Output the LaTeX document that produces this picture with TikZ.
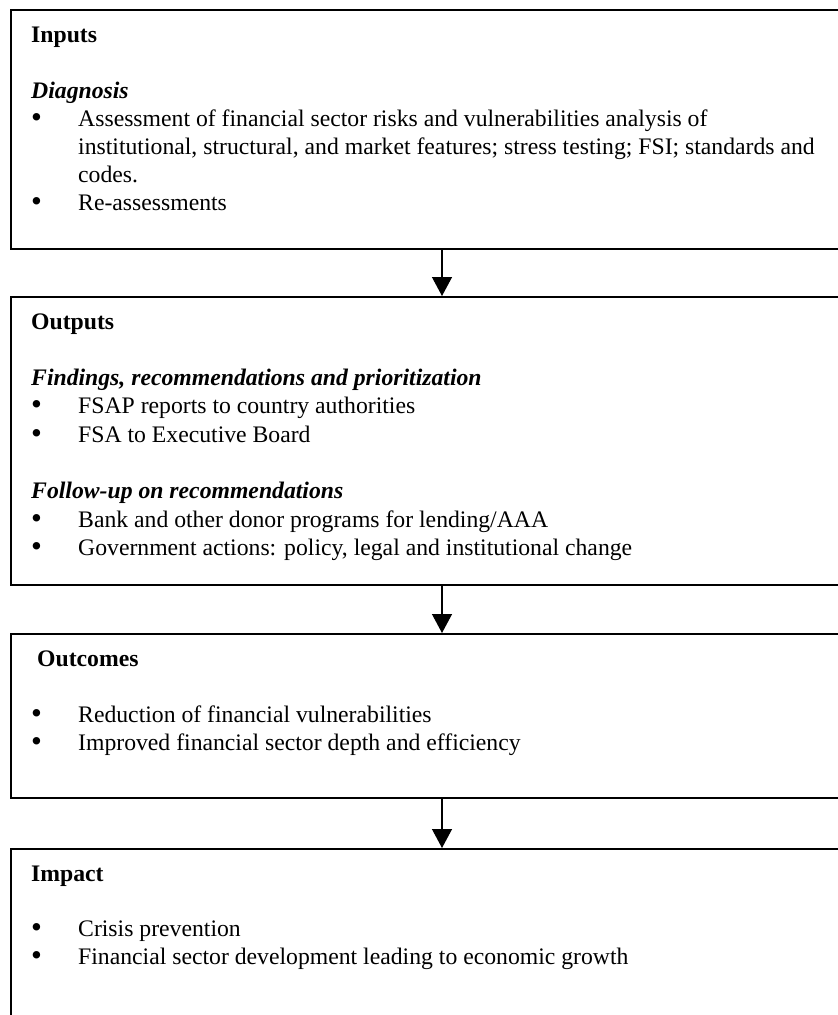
\documentclass[tikz,border=0pt]{standalone}
\usepackage{fontspec}
\setmainfont{Liberation Serif}
\usetikzlibrary{arrows.meta}
\begin{document}
\begin{tikzpicture}[x=1pt,y=-1pt,
  box/.style={draw=black, line width=1.8pt, rectangle, inner sep=0pt, anchor=north west},
  txt/.style={anchor=base west, inner sep=0pt, font=\fontsize{23.7}{28}\selectfont},
  head/.style={txt, font=\fontsize{23.7}{28}\selectfont\bfseries},
  sub/.style={txt, font=\fontsize{23.7}{28}\selectfont\bfseries\itshape},
  bul/.style={anchor=base, inner sep=0pt, font=\fontsize{31}{28}\selectfont},
  arr/.style={line width=1.3pt, -{Triangle[width=20pt,length=19pt]}}
]
\clip (0,0) rectangle (838,1015);
\fill[white] (0,0) rectangle (838,1015);
% boxes
\node[box, minimum width=830pt, minimum height=239pt] (b1) at (10,9) {};
\node[box, minimum width=830pt, minimum height=288pt] (b2) at (10,296) {};
\node[box, minimum width=830pt, minimum height=164pt] (b3) at (10,633) {};
\node[box, minimum width=830pt, minimum height=168pt] (b4) at (10,848) {};
% arrows
\coordinate (ax) at (442,0);
\draw[arr] (b1.south -| ax) -- (b2.north -| ax);
\draw[arr] (b2.south -| ax) -- (b3.north -| ax);
\draw[arr] (b3.south -| ax) -- (b4.north -| ax);
% box 1
\node[head] (h1) at (31,42) {Inputs};
\node[sub] (s1) at (31,98) {Diagnosis};
\node[bul] (p1) at (36.5,127) {•};
\node[txt] (l1a) at (78,126) {Assessment of financial sector risks and vulnerabilities analysis of};
\node[txt] (l1b) at (78,154) {institutional, structural, and market features; stress testing; FSI; standards and};
\node[txt] (l1c) at (78,182) {codes.};
\node[bul] (p2) at (36.5,211) {•};
\node[txt] (l2) at (78,210) {Re-assessments};
% box 2
\node[head] (h2) at (31,329) {Outputs};
\node[sub] (s2) at (31,385.6) {Findings, recommendations and prioritization};
\node[bul] (p3) at (36.5,414.9) {•};
\node[txt] (l3) at (78,413.9) {FSAP reports to country authorities};
\node[bul] (p4) at (36.5,443.2) {•};
\node[txt] (l4) at (78,442.2) {FSA to Executive Board};
\node[sub] (s3) at (31,498.8) {Follow-up on recommendations};
\node[bul] (p5) at (36.5,528.1) {•};
\node[txt] (l5) at (78,527.1) {Bank and other donor programs for lending/AAA};
\node[bul] (p6) at (36.5,556.4) {•};
\node[txt] (l6) at (78,555.4) {Government actions: policy, legal and institutional change};
% box 3
\node[head] (h3) at (37,666) {Outcomes};
\node[bul] (p7) at (36.5,723) {•};
\node[txt] (l7) at (78,722) {Reduction of financial vulnerabilities};
\node[bul] (p8) at (36.5,751) {•};
\node[txt] (l8) at (78,750) {Improved financial sector depth and efficiency};
% box 4
\node[head] (h4) at (31,881) {Impact};
\node[bul] (p9) at (36.5,937) {•};
\node[txt] (l9) at (78,936) {Crisis prevention};
\node[bul] (p10) at (36.5,965) {•};
\node[txt] (l10) at (78,964) {Financial sector development leading to economic growth};
\end{tikzpicture}
\end{document}
